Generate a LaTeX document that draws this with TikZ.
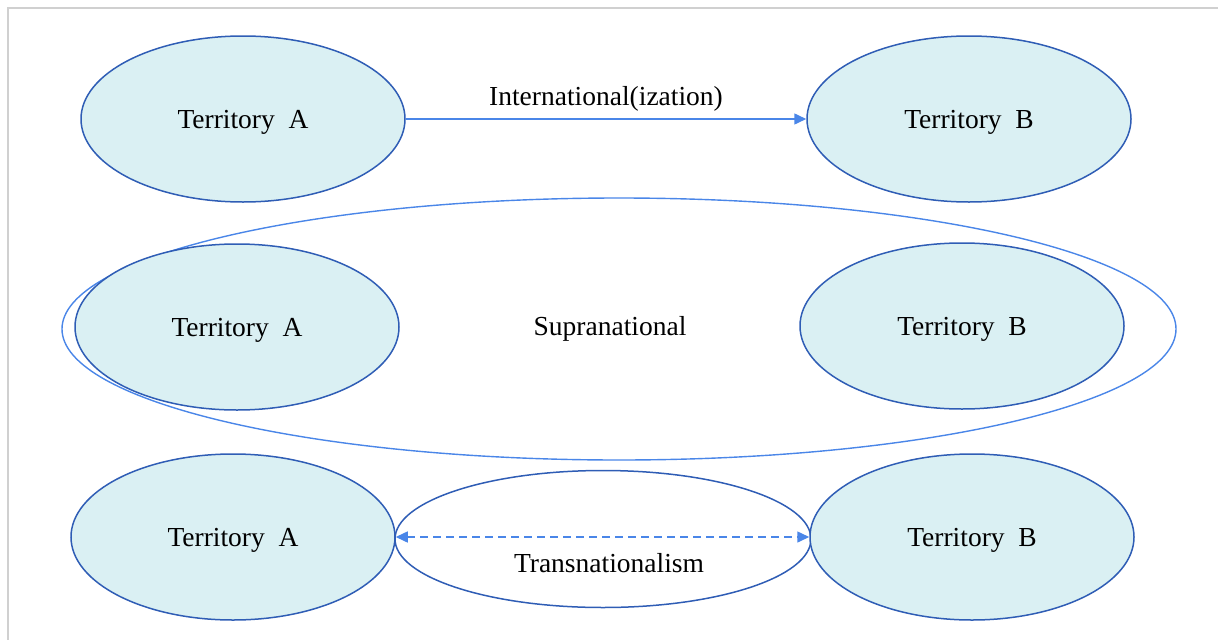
\documentclass[tikz,border=0pt]{standalone}
\usepackage{fontspec}
\setmainfont{Liberation Serif}
\usetikzlibrary{shapes.geometric,arrows.meta}
\definecolor{terrfill}{HTML}{DAF0F3}
\definecolor{terrline}{HTML}{2F5DB5}
\definecolor{linkblue}{HTML}{4A86E8}
\definecolor{framegray}{HTML}{D0D0D0}
\begin{document}
\begin{tikzpicture}[x=1pt,y=-1pt,
        territory/.style={ellipse, draw=terrline, fill=terrfill, line width=1.5pt, minimum width=324pt, minimum height=166pt, inner sep=0pt, text depth=0pt, font=\fontsize{27.5}{32}\selectfont},
        labeltext/.style={font=\fontsize{27.5}{32}\selectfont, inner sep=0pt},
        linkarrow/.style={draw=linkblue, line width=1.5pt, -{Triangle[length=12pt,width=11pt]}}]
            \useasboundingbox (0,0) rectangle (1218,640);
            \draw[framegray, line width=2pt] (1218,8) -- (8,8) -- (8,640);
            % international
            \node (terrA1) [territory] at (243,119) {Territory\ \ A};
            \node (terrB1) [territory] at (969,119) {Territory\ \ B};
            \draw [linkarrow] (terrA1.east) -- (terrB1.west) node (intl) [midway, above=7pt, labeltext] {International(ization)};
            % supranational
            \node (supra) [ellipse, draw=linkblue, line width=1.4pt, minimum width=1114pt, minimum height=262pt, inner sep=0pt] at (619,329) {};
            \node (terrA2) [territory] at (237,327) {Territory\ \ A};
            \node (terrB2) [territory] at (962,326) {Territory\ \ B};
            \node (supralabel) [labeltext] at (610,329) {Supranational};
            % transnational
            \node (trans) [ellipse, draw=terrline, line width=1.5pt, minimum width=416pt, minimum height=137pt, inner sep=0pt] at (603,539) {};
            \node (terrA3) [territory] at (233,537) {Territory\ \ A};
            \node (terrB3) [territory] at (972,537) {Territory\ \ B};
            \draw [linkarrow, {Triangle[length=12pt,width=11pt]}-{Triangle[length=12pt,width=11pt]}, dash pattern=on 8pt off 5pt] (terrA3.east) -- (terrB3.west);
            \node (translabel) [labeltext] at (609,563) {Transnationalism};
        \end{tikzpicture}
\end{document}
